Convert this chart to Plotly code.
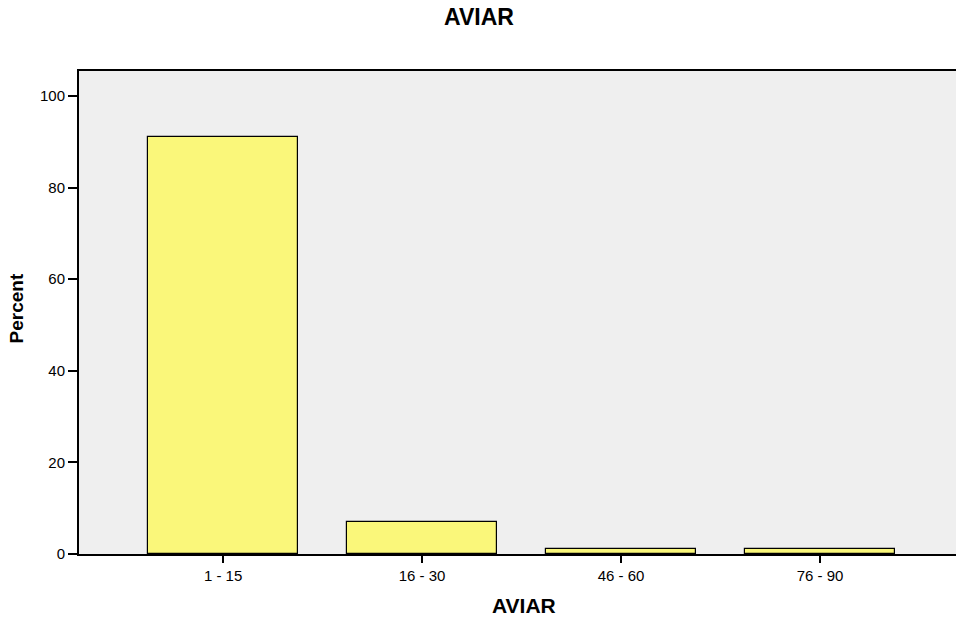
import plotly.graph_objects as go

categories = ["1 - 15", "16 - 30", "46 - 60", "76 - 90"]
percent = [91, 7, 1, 1]
y_ticks = [0, 20, 40, 60, 80, 100]

FONT = "Liberation Sans, Arial, sans-serif"

fig = go.Figure(
    go.Bar(
        x=list(range(len(categories))),
        y=percent,
        width=0.754,
        marker=dict(color="#FAF77A", line=dict(color="black", width=1.2)),
        hoverinfo="skip",
    )
)

fig.update_layout(
    width=956,
    height=619,
    margin=dict(l=79, r=0, t=71, b=65),
    paper_bgcolor="white",
    plot_bgcolor="#EFEFEF",
    showlegend=False,
    font=dict(family=FONT, size=15, color="black"),
    title=dict(
        text="<b>AVIAR</b>",
        x=0.501,
        xanchor="center",
        y=0.972,
        yanchor="middle",
        font=dict(family=FONT, size=23, color="black"),
    ),
    bargap=0,
    annotations=[
        dict(
            text="<b>AVIAR</b>",
            xref="paper", yref="paper",
            x=(524 - 79) / 877, y=-0.106,
            xanchor="center", yanchor="middle",
            showarrow=False,
            font=dict(family=FONT, size=21, color="black"),
        ),
        dict(
            text="<b>Percent</b>",
            xref="paper", yref="paper",
            x=-0.0715, y=0.509,
            xanchor="center", yanchor="middle",
            textangle=-90,
            showarrow=False,
            font=dict(family=FONT, size=19, color="black"),
        ),
    ],
)

fig.update_xaxes(
    tickmode="array",
    tickvals=list(range(len(categories))),
    ticktext=categories,
    range=[-0.724, 3.683],
    showgrid=False,
    zeroline=False,
    showline=True,
    linecolor="black",
    linewidth=2,
    mirror=True,
    ticks="outside",
    ticklen=7,
    tickwidth=2,
    tickcolor="black",
    tickfont=dict(family=FONT, size=15),
)

fig.update_yaxes(
    tickmode="array",
    tickvals=y_ticks,
    range=[0, 105.46],
    showgrid=False,
    zeroline=False,
    showline=True,
    linecolor="black",
    linewidth=2,
    ticks="outside",
    ticklen=9,
    tickwidth=2,
    tickcolor="black",
    tickfont=dict(family=FONT, size=15),
)

fig.write_html(
    "out.html",
    config={"displayModeBar": False},
    post_script="document.body.style.margin='0';document.body.style.overflow='hidden';",
)
